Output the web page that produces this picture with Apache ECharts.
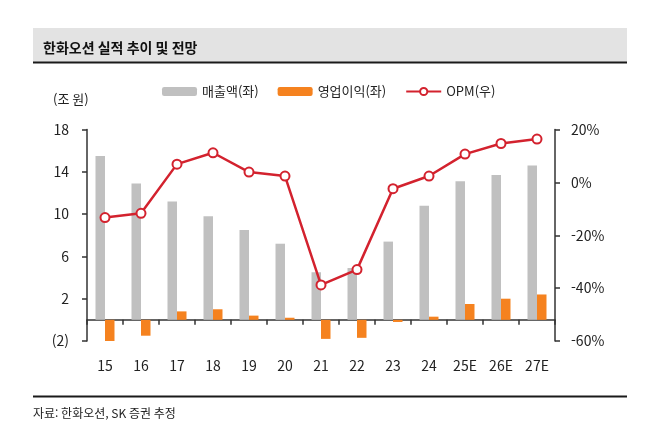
<!DOCTYPE html>
<html lang="ko">
<head>
  <meta http-equiv="Content-Type" content="text/html; charset=UTF-8">
  <title>한화오션 실적 추이 및 전망</title>
  <style>
    html, body { margin: 0; padding: 0; background: #fff; }
  </style>
</head>
<body>
  <div id="chart" style="width: 670px; height: 439px;"></div>
  <script src="https://cdn.jsdelivr.net/npm/echarts@6/dist/echarts.min.js"></script>
  <script>
    // 연도 (E = 추정치)
    const years = ['15', '16', '17', '18', '19', '20', '21', '22', '23', '24', '25E', '26E', '27E'];
    // 매출액 (조 원)
    const revenue = [15.5, 12.9, 11.2, 9.8, 8.5, 7.2, 4.5, 4.9, 7.4, 10.8, 13.1, 13.7, 14.6];
    // 영업이익 (조 원)
    const opProfit = [-2.1, -1.5, 0.8, 1.0, 0.4, 0.2, -1.8, -1.7, -0.2, 0.3, 1.5, 2.0, 2.4];
    // OPM (%)
    const opm = [-13.3, -11.7, 6.9, 11.2, 3.9, 2.4, -38.8, -33.0, -2.4, 2.4, 10.7, 14.7, 16.4];

    const FONT = '"Noto Sans CJK KR", "Noto Sans", sans-serif';
    const axisColor = '#333';

    const myChart = echarts.init(document.getElementById('chart'));
    const option = {
      animation: false,
      textStyle: { fontFamily: FONT },
      title: {
        text: '한화오션 실적 추이 및 전망',
        left: 38,
        top: 36,
        textStyle: { fontSize: 14, fontWeight: 'bold', color: '#111', fontFamily: FONT }
      },
      graphic: [
        { type: 'rect', z: -1, shape: { x: 33, y: 28, width: 594, height: 34 }, style: { fill: '#e3e3e3' } },
        { type: 'line', shape: { x1: 33, y1: 62.5, x2: 627, y2: 62.5 }, style: { stroke: '#1a1a1a', lineWidth: 2 } },
        { type: 'line', shape: { x1: 33, y1: 396.5, x2: 627, y2: 396.5 }, style: { stroke: '#1a1a1a', lineWidth: 2 } },
        { type: 'text', left: 53, top: 93, style: { text: '(조 원)', fontSize: 13, fill: '#222', fontFamily: FONT } },
        { type: 'text', left: 33, top: 407, style: { text: '자료: 한화오션, SK 증권 추정', fontSize: 12, fill: '#222', fontFamily: FONT } }
      ],
      legend: {
        left: 157,
        top: 80,
        itemWidth: 35,
        itemHeight: 9,
        itemGap: 19,
        textStyle: { fontSize: 13, color: '#222', fontFamily: FONT },
        data: ['매출액(좌)', '영업이익(좌)', 'OPM(우)']
      },
      grid: { left: 87, right: 115, top: 129.5, bottom: 98 },
      xAxis: [{
        type: 'category',
        data: years,
        position: 'bottom',
        axisLine: { onZero: true, onZeroAxisIndex: 0, lineStyle: { color: axisColor, width: 1.5 } },
        axisTick: { show: true, length: 5, lineStyle: { color: axisColor, width: 1.5 } },
        axisLabel: { show: false }
      }, {
        type: 'category',
        data: years,
        position: 'bottom',
        axisLine: { show: false, onZero: false },
        axisTick: { show: false },
        axisLabel: { margin: 18, fontSize: 14, color: '#222', fontFamily: FONT }
      }],
      yAxis: [{
        type: 'value',
        min: -2,
        max: 18,
        interval: 4,
        splitLine: { show: false },
        axisLine: { show: true, lineStyle: { color: axisColor, width: 1.5 } },
        axisTick: { show: true, length: 5, lineStyle: { color: axisColor, width: 1.5 } },
        axisLabel: {
          margin: 18,
          fontSize: 14,
          color: '#222',
          fontFamily: FONT,
          formatter: (v) => v < 0 ? '(' + (-v) + ')' : String(v)
        }
      }, {
        type: 'value',
        min: -60,
        max: 20,
        interval: 20,
        position: 'right',
        splitLine: { show: false },
        axisLine: { show: true, lineStyle: { color: axisColor, width: 1.5 } },
        axisTick: { show: true, length: 5, lineStyle: { color: axisColor, width: 1.5 } },
        axisLabel: {
          margin: 16,
          fontSize: 14,
          color: '#222',
          fontFamily: FONT,
          formatter: (v) => v + '%'
        }
      }],
      series: [{
        name: '매출액(좌)',
        type: 'bar',
        xAxisIndex: 0,
        yAxisIndex: 0,
        barWidth: 9.5,
        barGap: '0%',
        itemStyle: { color: '#c0c0c0' },
        data: revenue
      }, {
        name: '영업이익(좌)',
        type: 'bar',
        xAxisIndex: 0,
        yAxisIndex: 0,
        barWidth: 9.5,
        barGap: '0%',
        itemStyle: { color: '#f5821f' },
        data: opProfit
      }, {
        name: 'OPM(우)',
        type: 'line',
        xAxisIndex: 0,
        yAxisIndex: 1,
        symbol: 'circle',
        symbolSize: 9,
        lineStyle: { color: '#d3222e', width: 2.5 },
        itemStyle: { color: '#fff', borderColor: '#d3222e', borderWidth: 2 },
        z: 5,
        data: opm
      }]
    };
    myChart.setOption(option);
  </script>
</body>
</html>
